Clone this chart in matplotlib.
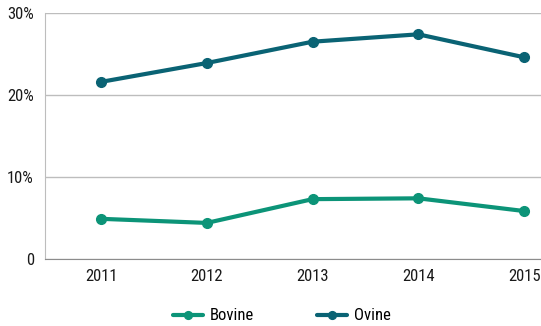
import matplotlib
matplotlib.use("Agg")
import matplotlib.pyplot as plt
from matplotlib.ticker import FuncFormatter

years = ["2011", "2012", "2013", "2014", "2015"]
bovine = [4.9, 4.4, 7.3, 7.4, 5.85]
ovine = [21.6, 23.9, 26.5, 27.4, 24.6]
y_ticks = [0, 10, 20, 30]

bovine_color = "#0c9478"
ovine_color = "#0a6374"

plt.rcParams["font.family"] = ["Roboto Condensed", "Liberation Sans", "DejaVu Sans"]

fig = plt.figure(figsize=(5.41, 3.26), dpi=100)
ax = fig.add_axes([45 / 541, 1 - 259 / 326, 1 - 45 / 541, (259 - 13) / 326])

x = list(range(len(years)))
ax.plot(x, bovine, color=bovine_color, lw=3, marker="o", ms=7, label="Bovine",
        solid_capstyle="round")
ax.plot(x, ovine, color=ovine_color, lw=3, marker="o", ms=7, label="Ovine",
        solid_capstyle="round")

ax.set_ylim(0, 30)
ax.set_xlim(-0.53, 4.16)
ax.set_yticks(y_ticks)
ax.yaxis.set_major_formatter(FuncFormatter(lambda v, p: "0" if v == 0 else f"{v:.0f}%"))
ax.set_xticks(x)
ax.set_xticklabels(years)
ax.tick_params(axis="both", length=0, labelsize=12, colors="#1a1a1a")
ax.tick_params(axis="x", pad=7)
ax.tick_params(axis="y", pad=8)

ax.grid(axis="y", color="#bdbdbd", lw=1)
ax.set_axisbelow(True)
for s in ["top", "right"]:
    ax.spines[s].set_visible(False)
ax.spines["left"].set_color("#bdbdbd")
ax.spines["bottom"].set_color("#8c8c8c")

fig.legend(loc="center", bbox_to_anchor=(282 / 541, 1 - 316 / 326), ncol=2, frameon=False,
           fontsize=12, handlelength=1.8, handletextpad=0.4, columnspacing=3.8,
           markerscale=0.8)

fig.savefig("out.png", dpi=100)
